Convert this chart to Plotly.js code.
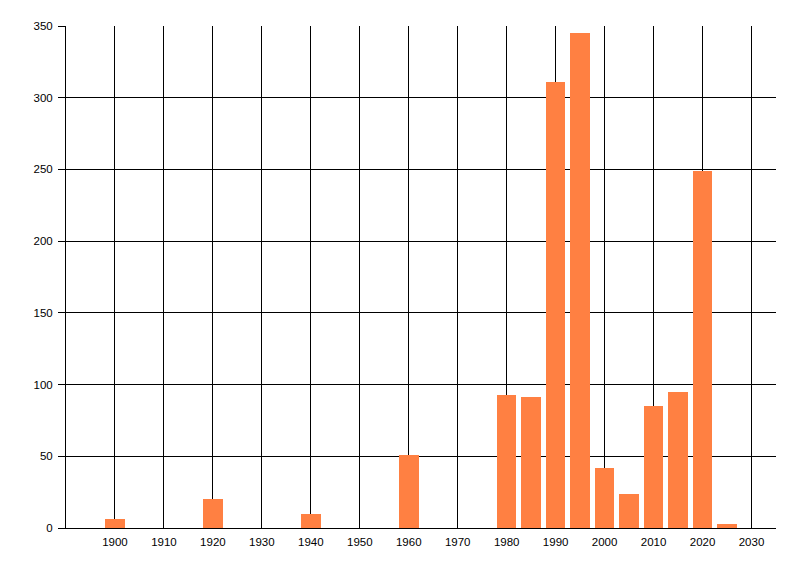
<!DOCTYPE html>
<html>
<head>
<meta charset="utf-8">
<script src="https://cdn.plot.ly/plotly-3.0.1.min.js"></script>
<style>
  html, body { margin: 0; padding: 0; background: #fff; }
  #chart { width: 800px; height: 576px; }
</style>
</head>
<body>
<div id="chart"></div>
<script>
// years (bar centres) and counts
const years  = [1900, 1920, 1940, 1960, 1980, 1985, 1990, 1995, 2000, 2005, 2010, 2015, 2020, 2025];
const counts = [6, 20, 10, 51, 93, 91, 311, 345, 42, 24, 85, 95, 249, 3];

const xTicks = [1900, 1910, 1920, 1930, 1940, 1950, 1960, 1970, 1980, 1990, 2000, 2010, 2020, 2030];
const yTicks = [0, 50, 100, 150, 200, 250, 300, 350];

const FONT = { family: 'Liberation Sans, Arial, sans-serif', size: 11.5, color: '#000' };

Plotly.newPlot('chart', [{
  type: 'bar',
  x: years,
  y: counts,
  width: 4,
  marker: { color: '#ff8042', line: { width: 0 } },
  hoverinfo: 'x+y',
}], {
  width: 800, height: 576,
  paper_bgcolor: '#fff',
  plot_bgcolor:  '#fff',
  margin: { l: 66, r: 24, t: 26, b: 48 },
  showlegend: false,
  font: FONT,
  xaxis: {
    range: [1890, 2035],
    tickmode: 'array', tickvals: xTicks, ticktext: xTicks.map(String),
    showgrid: true, gridcolor: '#000', gridwidth: 1,
    showline: true, linecolor: '#000', linewidth: 1,
    zeroline: false,
    ticks: '', ticklen: 0,
    ticklabelstandoff: 3,
    tickfont: FONT,
    fixedrange: true,
  },
  yaxis: {
    range: [0, 350],
    tickmode: 'array', tickvals: yTicks, ticktext: yTicks.map(String),
    showgrid: true, gridcolor: '#000', gridwidth: 1,
    showline: true, linecolor: '#000', linewidth: 1,
    zeroline: false,
    ticks: 'outside', ticklen: 7, tickcolor: '#000', tickwidth: 1,
    ticklabelstandoff: 3,
    tickfont: FONT,
    fixedrange: true,
  },
  bargap: 0,
}, { displayModeBar: false, staticPlot: true });
</script>
</body>
</html>
